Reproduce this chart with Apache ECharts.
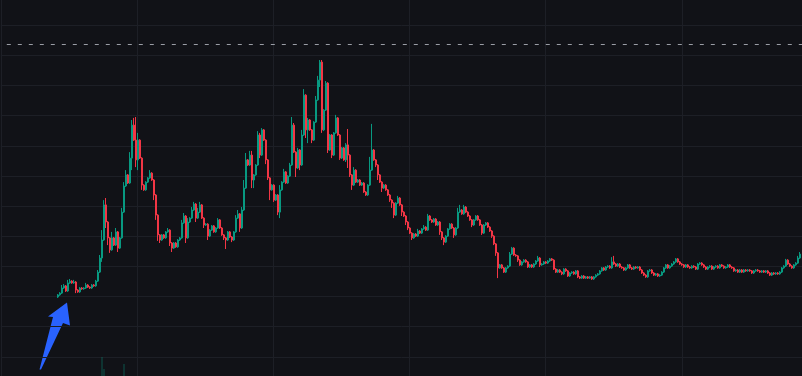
<!DOCTYPE html>
<html>
<head>
<meta charset="utf-8">
<script src="https://cdn.jsdelivr.net/npm/echarts@6/dist/echarts.min.js"></script>
<style>
html,body{margin:0;padding:0;background:#111217;}
#chart{width:802px;height:376px;}
</style>
</head>
<body>
<div id="chart"></div>
<script>
// ---- data (price units, one candle per bar) ----
const open = [
30.0,30.7,31.3,33.0,33.7,32.0,34.7,35.3,34.7,35.0,
32.3,31.7,33.0,32.7,33.0,34.0,33.3,33.0,34.0,33.7,
35.3,38.3,43.0,49.0,60.7,55.0,49.7,45.7,49.7,47.3,
51.7,46.3,49.7,58.3,67.0,70.7,68.0,76.3,87.3,82.3,
75.7,82.3,76.3,67.3,65.7,68.3,69.7,71.3,69.0,64.0,
57.3,50.7,49.0,50.7,49.7,51.7,52.3,48.0,46.3,48.0,
46.7,49.0,49.7,54.7,57.0,49.7,55.0,56.3,59.0,61.0,
56.3,58.3,60.7,56.3,54.0,54.3,50.3,52.3,53.7,51.7,
53.0,55.7,53.0,50.7,49.7,49.0,51.7,50.0,49.0,51.7,
56.3,57.7,53.0,59.0,66.3,75.7,74.0,77.3,69.0,70.7,
74.0,84.0,77.3,85.7,82.3,75.7,69.7,65.7,67.3,62.3,
64.0,58.3,65.7,68.3,71.7,68.0,70.3,74.0,87.3,78.3,
73.0,79.0,74.0,84.0,97.3,85.7,89.0,85.7,82.3,88.3,
95.7,102.3,108.3,85.7,92.3,101.3,79.0,84.0,77.3,84.7,
89.7,84.0,76.3,79.7,75.7,80.7,77.3,70.7,67.3,72.3,
68.3,69.0,67.3,68.0,65.0,64.0,67.3,72.3,79.0,75.7,
74.0,70.7,68.3,66.3,67.3,65.7,64.0,62.3,61.3,57.3,
61.3,63.0,60.7,58.3,57.0,55.0,53.0,51.3,49.7,51.0,
50.3,52.0,51.3,52.7,53.3,52.3,57.0,55.7,55.0,56.0,
54.0,55.0,51.7,49.7,48.3,50.3,52.7,54.3,53.0,50.7,
53.0,58.3,59.0,57.7,60.0,58.3,57.0,55.7,54.0,55.7,
57.0,55.7,54.0,51.3,54.0,54.7,53.3,52.0,50.3,47.7,
44.7,39.7,40.7,39.7,38.3,39.7,40.3,44.3,46.3,44.0,
43.7,42.3,40.7,41.7,42.3,41.7,40.0,40.7,40.0,41.0,
42.0,43.0,40.7,41.0,41.7,41.3,42.0,42.7,42.3,39.3,
38.3,39.0,38.3,37.7,39.3,38.7,37.0,38.0,38.3,37.7,
38.7,36.7,36.3,37.0,36.3,36.7,36.3,36.7,36.0,36.7,
37.3,37.7,38.7,39.7,39.0,40.0,40.3,39.7,41.7,41.0,
40.3,41.0,40.0,39.7,39.0,39.7,40.7,39.7,39.3,40.0,
39.7,40.0,39.0,38.0,37.3,36.7,38.7,39.0,38.0,37.3,
37.7,37.0,37.3,38.3,39.7,40.7,39.7,40.3,41.0,41.7,
42.7,41.7,41.0,40.7,40.0,40.7,40.0,39.7,40.3,40.0,
39.3,41.0,41.3,40.7,40.0,39.3,40.0,40.3,39.3,40.0,
40.3,39.7,40.7,40.3,39.7,40.0,40.7,40.0,39.7,38.7,
39.0,38.3,39.0,38.3,39.0,38.7,39.0,38.7,38.0,38.7,
39.0,38.7,38.3,38.7,38.3,38.7,38.0,37.3,38.0,37.7,
38.0,37.7,38.3,39.7,40.3,42.3,41.0,40.3,39.7,40.7,
41.3,43.0
];
const close = [
30.7,31.3,33.0,33.7,32.0,34.7,35.3,34.7,35.0,32.3,
31.7,33.0,32.7,33.0,34.0,33.3,33.0,34.0,33.7,35.3,
38.3,43.0,49.0,60.7,55.0,49.7,45.7,49.7,47.3,51.7,
46.3,49.7,58.3,67.0,70.7,68.0,76.3,87.3,82.3,75.7,
82.3,76.3,67.3,65.7,68.3,69.7,71.3,69.0,64.0,57.3,
50.7,49.0,50.7,49.7,51.7,52.3,48.0,46.3,48.0,46.7,
49.0,49.7,54.7,57.0,49.7,55.0,56.3,59.0,61.0,56.3,
58.3,60.7,56.3,54.0,54.3,50.3,52.3,53.7,51.7,53.0,
55.7,53.0,50.7,49.7,49.0,51.7,50.0,49.0,51.7,56.3,
57.7,53.0,59.0,66.3,75.7,74.0,77.3,69.0,70.7,74.0,
84.0,77.3,85.7,82.3,75.7,69.7,65.7,67.3,62.3,64.0,
58.3,65.7,68.3,71.7,68.0,70.3,74.0,87.3,78.3,73.0,
79.0,74.0,84.0,97.3,85.7,89.0,85.7,82.3,88.3,95.7,
102.3,108.3,85.7,92.3,101.3,79.0,84.0,77.3,84.7,89.7,
84.0,76.3,79.7,75.7,80.7,77.3,70.7,67.3,72.3,68.3,
69.0,67.3,68.0,65.0,64.0,67.3,72.3,79.0,75.7,74.0,
70.7,68.3,66.3,67.3,65.7,64.0,62.3,61.3,57.3,61.3,
63.0,60.7,58.3,57.0,55.0,53.0,51.3,49.7,51.0,50.3,
52.0,51.3,52.7,53.3,52.3,57.0,55.7,55.0,56.0,54.0,
55.0,51.7,49.7,48.3,50.3,52.7,54.3,53.0,50.7,53.0,
58.3,59.0,57.7,60.0,58.3,57.0,55.7,54.0,55.7,57.0,
55.7,54.0,51.3,54.0,54.7,53.3,52.0,50.3,47.7,44.7,
39.7,40.7,39.7,38.3,39.7,40.3,44.3,46.3,44.0,43.7,
42.3,40.7,41.7,42.3,41.7,40.0,40.7,40.0,41.0,42.0,
43.0,40.7,41.0,41.7,41.3,42.0,42.7,42.3,39.3,38.3,
39.0,38.3,37.7,39.3,38.7,37.0,38.0,38.3,37.7,38.7,
36.7,36.3,37.0,36.3,36.7,36.3,36.7,36.0,36.7,37.3,
37.7,38.7,39.7,39.0,40.0,40.3,39.7,41.7,41.0,40.3,
41.0,40.0,39.7,39.0,39.7,40.7,39.7,39.3,40.0,39.7,
40.0,39.0,38.0,37.3,36.7,38.7,39.0,38.0,37.3,37.7,
37.0,37.3,38.3,39.7,40.7,39.7,40.3,41.0,41.7,42.7,
41.7,41.0,40.7,40.0,40.7,40.0,39.7,40.3,40.0,39.3,
41.0,41.3,40.7,40.0,39.3,40.0,40.3,39.3,40.0,40.3,
39.7,40.7,40.3,39.7,40.0,40.7,40.0,39.7,38.7,39.0,
38.3,39.0,38.3,39.0,38.7,39.0,38.7,38.0,38.7,39.0,
38.7,38.3,38.7,38.3,38.7,38.0,37.3,38.0,37.7,38.0,
37.7,38.3,39.7,40.3,42.3,41.0,40.3,39.7,40.7,41.3,
43.0,44.3
];
const high = [
31.0,31.6,34.0,34.3,34.0,35.7,36.0,35.6,35.7,35.3,
32.6,33.3,33.3,33.3,34.7,34.3,33.6,34.3,34.3,35.7,
39.0,44.0,52.3,62.3,63.0,55.3,50.0,51.7,50.0,53.0,
52.0,50.0,59.7,68.3,72.3,71.0,78.3,89.0,89.7,90.0,
84.7,82.6,76.6,67.6,68.6,70.0,72.3,71.6,69.3,64.3,
57.6,51.0,51.0,51.0,52.0,53.0,52.6,48.3,48.3,48.3,
49.3,50.0,55.7,58.0,57.3,56.3,56.6,60.0,61.7,61.3,
59.7,61.7,61.0,56.6,54.6,54.6,52.6,54.0,54.0,53.3,
56.3,56.0,53.3,51.0,50.0,52.0,52.0,50.3,52.0,57.3,
59.0,58.0,60.0,69.0,78.0,76.0,78.7,78.7,71.0,74.3,
85.3,84.7,86.3,86.0,82.6,76.0,70.0,67.6,67.6,64.3,
64.3,67.3,68.6,72.7,72.0,70.6,74.7,90.0,88.0,78.6,
79.7,79.3,85.7,99.3,97.6,89.7,89.3,86.0,88.6,97.0,
103.7,109.0,109.0,92.6,102.0,101.6,84.3,84.3,85.0,90.7,
90.0,84.3,80.0,80.0,81.3,86.0,77.6,71.0,73.3,72.6,
69.3,69.3,68.3,68.3,65.3,67.6,76.7,87.7,79.3,76.0,
74.3,71.0,68.6,67.6,67.6,66.0,64.3,62.6,61.6,61.6,
63.7,63.3,61.0,58.6,57.3,55.3,53.3,51.6,51.3,51.3,
52.7,52.3,53.0,54.0,53.6,57.7,57.3,56.0,56.3,56.3,
55.3,55.3,52.0,50.0,50.6,53.0,54.6,54.6,53.3,53.3,
59.7,60.7,59.3,60.7,60.3,58.6,57.3,56.0,56.0,57.3,
57.3,56.0,54.3,54.3,55.0,55.0,53.6,52.3,50.6,48.0,
45.0,41.0,41.0,40.0,40.0,40.6,45.0,46.7,46.6,44.3,
44.0,42.6,42.0,42.6,42.6,42.0,41.0,41.0,41.3,42.3,
43.7,43.3,41.3,42.0,42.0,42.3,43.0,43.0,42.6,39.6,
39.3,39.3,38.6,39.6,39.6,39.0,38.3,38.6,38.6,39.0,
39.0,37.0,37.3,37.3,37.0,37.0,37.0,37.0,37.0,37.6,
38.0,39.0,40.0,40.0,40.3,40.6,40.6,43.3,43.7,41.3,
41.3,41.3,40.3,40.0,40.0,41.0,41.0,40.0,40.3,40.3,
40.3,40.3,39.3,38.3,37.6,39.0,39.3,39.3,38.3,38.0,
38.0,37.6,38.6,40.0,41.0,41.0,40.6,41.3,42.0,43.0,
43.0,42.0,41.3,41.0,41.0,41.0,40.3,40.6,40.6,40.3,
41.3,41.6,41.6,41.0,40.3,40.3,40.6,40.6,40.3,40.6,
40.6,41.0,41.0,40.6,40.3,41.0,41.0,40.3,40.0,39.3,
39.3,39.3,39.3,39.3,39.3,39.3,39.3,39.0,39.0,39.3,
39.3,39.0,39.0,39.0,39.0,39.0,38.3,38.3,38.3,38.3,
38.3,38.6,40.0,40.6,42.7,42.6,41.3,40.6,41.0,41.6,
43.7,45.0
];
const low = [
29.7,30.4,31.0,32.7,31.7,31.7,34.4,34.4,34.4,31.3,
31.4,31.4,32.4,32.4,32.7,33.0,32.7,32.7,33.4,33.4,
35.0,38.0,41.7,48.7,53.0,47.3,44.7,45.4,47.0,47.0,
45.0,46.0,49.4,58.0,66.7,67.7,67.7,72.3,82.0,73.3,
72.3,76.0,65.7,65.4,65.4,68.0,69.4,68.7,62.3,55.7,
48.7,48.0,48.7,49.4,49.4,51.4,47.0,45.0,46.0,46.4,
46.4,48.7,49.4,54.4,48.0,49.4,54.7,56.0,58.7,55.0,
56.0,58.0,56.0,53.0,53.7,49.0,50.0,52.0,51.4,51.4,
52.7,52.7,50.4,49.0,46.0,48.7,49.7,48.3,48.7,51.4,
56.0,51.7,52.7,58.7,66.0,73.7,73.7,66.3,66.3,70.4,
73.7,76.3,77.0,82.0,74.3,69.0,62.3,65.4,61.7,62.0,
57.3,56.3,65.4,68.0,67.7,67.7,70.0,73.7,78.0,70.0,
72.7,72.3,73.7,83.7,83.0,81.3,85.4,81.3,82.0,88.0,
95.4,100.0,84.7,85.3,92.0,78.0,78.7,76.3,77.0,84.4,
83.7,75.7,76.0,75.4,75.0,73.0,70.0,65.7,67.0,68.0,
68.0,67.0,67.0,64.7,63.7,63.7,67.0,72.0,75.4,73.3,
69.0,68.0,65.0,66.0,65.4,63.7,61.7,59.7,56.3,57.0,
61.0,60.4,57.0,56.7,54.0,52.3,51.0,49.0,49.4,50.0,
50.0,51.0,51.0,52.4,52.0,52.0,55.4,54.7,54.7,53.7,
53.7,50.7,49.0,47.3,48.0,50.0,52.4,52.7,49.7,50.4,
52.7,58.0,57.4,57.4,58.0,56.7,55.4,53.3,53.7,55.4,
55.4,53.7,50.7,51.0,53.7,53.0,51.7,49.7,47.3,43.7,
36.3,39.4,39.4,38.0,38.0,39.4,40.0,44.0,43.7,43.4,
41.7,40.4,40.4,41.4,41.4,39.7,39.7,39.7,39.7,40.7,
41.7,40.0,40.4,40.7,41.0,41.0,41.7,42.0,39.0,38.0,
38.0,38.0,37.3,37.4,38.4,36.7,36.7,37.7,37.4,37.4,
36.3,36.0,36.0,36.0,36.0,36.0,36.0,35.7,35.7,36.4,
37.0,37.4,38.4,38.7,38.7,39.7,39.4,39.4,40.7,40.0,
40.0,39.7,39.4,38.7,38.7,39.4,39.4,39.0,39.0,39.4,
39.4,38.7,37.7,37.0,36.4,36.4,38.4,37.7,37.0,37.0,
36.7,36.7,37.0,38.0,39.4,39.4,39.4,40.0,40.7,41.4,
41.4,40.7,40.4,39.7,39.7,39.7,39.4,39.4,39.7,39.0,
39.0,40.7,40.4,39.7,39.0,39.0,39.7,39.0,39.0,39.7,
39.4,39.4,40.0,39.4,39.4,39.7,39.7,39.4,38.4,38.4,
38.0,38.0,38.0,38.0,38.4,38.4,38.4,37.7,37.7,38.4,
38.4,38.0,38.0,38.0,38.0,37.7,37.0,37.0,37.4,37.4,
37.4,37.4,38.0,39.4,40.0,40.7,40.0,39.4,39.4,40.4,
41.0,42.7
];
// visible volume spikes (bar index, volume)
const volIndex = [22, 23, 33];
const volValue = [15.0, 9.0, 11.5];
// all-time-high reference level (dashed line)
const athLevel = 114.3;

// ---- styles ----
const BG = '#111217';
const GRID = '#1d1f26';
const UP = '#089981';
const DOWN = '#f23645';

const chart = echarts.init(document.getElementById('chart'), null, {renderer: 'canvas'});
const bars = open.map((o, i) => i);
const candleData = open.map((o, i) => [o, close[i], low[i], high[i]]);
const volData = volIndex.map((x, i) => [x, volValue[i]]);
const hidden = {axisLine: {show: false}, axisTick: {show: false}, axisLabel: {show: false}};

chart.setOption({
  backgroundColor: BG,
  animation: false,
  grid: [
    { left: 0.8, top: -5, width: 802, height: 392, containLabel: false, outerBoundsMode: 'none' },
    { left: 57, top: -5, width: 744, height: 392, containLabel: false, outerBoundsMode: 'none' }
  ],
  xAxis: [
    Object.assign({ type: 'value', gridIndex: 0, min: 0, max: 802, interval: 136.2,
      splitLine: {show: true, lineStyle: {color: GRID, width: 1}} }, hidden),
    Object.assign({ type: 'category', gridIndex: 1, data: bars, boundaryGap: true,
      splitLine: {show: false} }, hidden)
  ],
  yAxis: [
    Object.assign({ type: 'value', gridIndex: 0, min: 0, max: 392 / 3, interval: 10.05,
      splitLine: {show: true, lineStyle: {color: GRID, width: 1}} }, hidden),
    Object.assign({ type: 'value', gridIndex: 1, min: 0, max: 392 / 3, splitLine: {show: false} }, hidden),
    Object.assign({ type: 'value', gridIndex: 1, min: 0, max: 196, splitLine: {show: false} }, hidden)
  ],
  series: [
    {
      type: 'line', xAxisIndex: 0, yAxisIndex: 0, data: [], silent: true,
      markLine: {
        silent: true, symbol: ['none', 'none'], label: {show: false},
        lineStyle: {color: '#9a9da5', type: [4, 7], width: 1, dashOffset: 5},
        data: [{yAxis: athLevel}]
      }
    },
    {
      type: 'bar', xAxisIndex: 1, yAxisIndex: 2, data: volData, barWidth: 1,
      itemStyle: {color: 'rgba(8,153,129,0.5)'}, silent: true
    },
    {
      type: 'candlestick', xAxisIndex: 1, yAxisIndex: 1,
      data: candleData,
      barWidth: 1.4,
      large: false,
      itemStyle: {color: UP, color0: DOWN, borderColor: UP, borderColor0: DOWN, borderWidth: 1}
    }
  ],
  graphic: [{
    type: 'polygon',
    shape: {points: [[39.5, 369.5], [53, 317], [48, 316.5], [67, 302.5], [70, 325.5], [63, 323], [41, 369.5]]},
    style: {fill: '#2962ff'}
  }]
});
</script>
</body>
</html>
